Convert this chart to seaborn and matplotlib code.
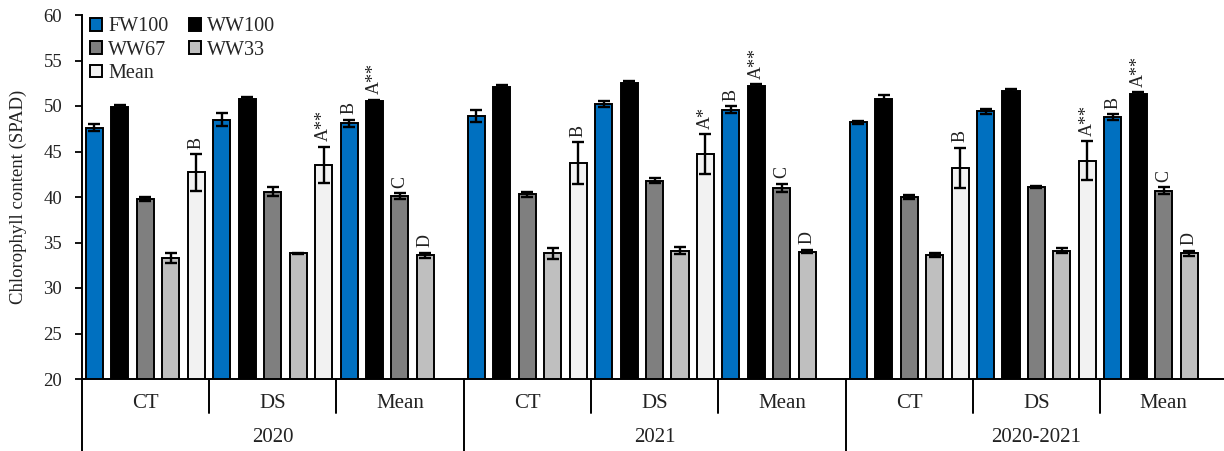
import numpy as np
import pandas as pd
import matplotlib
matplotlib.use("Agg")
import matplotlib.pyplot as plt
import seaborn as sns
from matplotlib.patches import Patch
from matplotlib.transforms import blended_transform_factory

# Chlorophyll content (SPAD) by year and factor level
years = ["2020", "2021", "2020-2021"]
factors = ["CT", "DS", "Mean"]
series = ["FW100", "WW100", "WW67", "WW33", "Mean"]

fw100 = [47.6, 48.5, 48.1, 48.9, 50.2, 49.6, 48.2, 49.4, 48.8]
fw100_err = [0.4, 0.7, 0.4, 0.7, 0.3, 0.4, 0.2, 0.3, 0.3]
ww100 = [49.9, 50.8, 50.5, 52.1, 52.5, 52.2, 50.8, 51.7, 51.3]
ww100_err = [0.2, 0.2, 0.2, 0.2, 0.3, 0.2, 0.4, 0.2, 0.2]
ww67 = [39.8, 40.6, 40.1, 40.3, 41.8, 41.0, 40.0, 41.1, 40.7]
ww67_err = [0.2, 0.5, 0.3, 0.3, 0.3, 0.45, 0.2, 0.1, 0.4]
ww33 = [33.3, 33.8, 33.6, 33.8, 34.1, 34.0, 33.6, 34.1, 33.8]
ww33_err = [0.6, 0.1, 0.3, 0.6, 0.4, 0.2, 0.2, 0.3, 0.3]
mean = [42.7, 43.5, None, 43.7, 44.7, None, 43.2, 44.0, None]
mean_err = [2.0, 2.0, None, 2.3, 2.2, None, 2.2, 2.1, None]

# significance letters per series (empty = none)
fw100_lab = ["", "", "B", "", "", "B", "", "", "B"]
ww100_lab = ["", "", "A**", "", "", "A**", "", "", "A**"]
ww67_lab = ["", "", "C", "", "", "C", "", "", "C"]
ww33_lab = ["", "", "D", "", "", "D", "", "", "D"]
mean_lab = ["B", "A**", "", "B", "A*", "", "B", "A**", ""]

colors = ["#0070C0", "#000000", "#7F7F7F", "#BFBFBF", "#F2F2F2"]

slots = [f"{y} {f}" for y in years for f in factors]
table = {
    "FW100": (fw100, fw100_err, fw100_lab),
    "WW100": (ww100, ww100_err, ww100_lab),
    "WW67": (ww67, ww67_err, ww67_lab),
    "WW33": (ww33, ww33_err, ww33_lab),
    "Mean": (mean, mean_err, mean_lab),
}
rows = []
for name in series:
    vals, errs, labs = table[name]
    for i, slot in enumerate(slots):
        if vals[i] is not None:
            rows.append({"slot": slot, "series": name, "value": vals[i],
                         "err": errs[i], "label": labs[i]})
df = pd.DataFrame(rows)

sns.set_theme(style="ticks")
plt.rcParams["font.family"] = ["Liberation Serif", "DejaVu Serif"]

fig = plt.figure(figsize=(12.24, 4.51), dpi=100)
ax = fig.add_axes([81.7 / 1224, 1 - 379 / 451, 1145.7 / 1224, 364 / 451])

sns.barplot(data=df, x="slot", y="value", hue="series", order=slots,
            hue_order=series, palette=colors, saturation=1, width=1.0,
            gap=0.33, errorbar=None, edgecolor="black", linewidth=1.4,
            legend=False, ax=ax)

# error bars and letters at bar centres
for cont, name in zip(ax.containers, series):
    sub = df[df["series"] == name].set_index("slot")
    for patch in cont.patches:
        cx = patch.get_x() + patch.get_width() / 2
        slot = slots[int(round(cx))]
        if slot not in sub.index:
            continue
        r = sub.loc[slot]
        ax.errorbar(cx, r["value"], yerr=r["err"], fmt="none", ecolor="black",
                    elinewidth=1.7, capsize=4.5, capthick=1.7, zorder=5)
        if r["label"]:
            ax.text(cx, r["value"] + r["err"] + 0.6, r["label"], rotation=90,
                    ha="center", va="bottom", fontsize=13, color="#222222")

ax.set_ylim(20, 60)
ax.set_xlim(-0.5, 8.5)
ax.set_yticks(np.arange(20, 61, 5))
ax.tick_params(axis="y", direction="out", length=5, width=1.3,
               labelsize=13.5, labelcolor="#222222", color="black", pad=9)
ax.tick_params(axis="x", bottom=False, labelbottom=False)
ax.set_xlabel("")
ax.set_ylabel("Chlorophyll content (SPAD)", fontsize=13.5, color="#222222",
              labelpad=12)
for s in ["top", "right"]:
    ax.spines[s].set_visible(False)
for s in ["left", "bottom"]:
    ax.spines[s].set_linewidth(1.4)
    ax.spines[s].set_color("black")

# two-level category axis below the plot
tr = blended_transform_factory(ax.transData, ax.transAxes)
for b in range(10):
    xb = b - 0.5
    y_end = -0.2 if b % 3 == 0 else -0.0934
    ax.plot([xb, xb], [0, y_end], color="black", lw=1.4, transform=tr,
            clip_on=False)
for i, slot in enumerate(slots):
    ax.text(i, -0.068, factors[i % 3], transform=tr, ha="center",
            va="center", fontsize=15, color="#222222")
for j, y in enumerate(years):
    ax.text(3 * j + 1, -0.162, y, transform=tr, ha="center", va="center",
            fontsize=15, color="#222222")

handles = [Patch(facecolor=c, edgecolor="black", linewidth=1.4) for c in colors]
order = [0, 2, 4, 1, 3]
ax.legend([handles[k] for k in order], [series[k] for k in order], ncol=2,
          loc="upper left", bbox_to_anchor=(0.004, 1.005), frameon=False,
          fontsize=14.5, handlelength=0.6, handleheight=0.6,
          handletextpad=0.3, columnspacing=1.0, labelspacing=0.22,
          borderaxespad=0, borderpad=0.2)

fig.savefig("out.png", dpi=100)
